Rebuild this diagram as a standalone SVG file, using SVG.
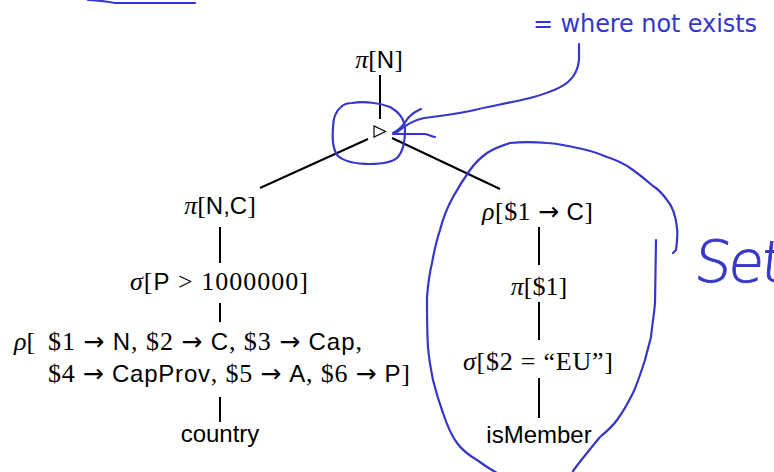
<svg xmlns="http://www.w3.org/2000/svg" width="774" height="472" viewBox="0 0 774 472">
<style>
.m{font-family:"Liberation Serif","DejaVu Serif",serif;font-size:26px;fill:#000}
.s{font-family:"Liberation Sans","DejaVu Sans",sans-serif;font-style:normal;font-size:24px}
.a{font-family:"DejaVu Sans",sans-serif;font-size:25px}
.i{font-style:italic}
.e{stroke:#000;stroke-width:2;fill:none}
.ink{fill:none;stroke:#3636c9;stroke-width:2.2;stroke-linecap:round;stroke-linejoin:round}
.note{font-family:"DejaVu Sans","Liberation Sans",sans-serif;font-size:24px;fill:#3636c9}
</style>
<g id="connectors">
<line class="e" x1="380" y1="75" x2="380" y2="119"/>
<line class="e" x1="368" y1="139" x2="260" y2="188"/>
<line class="e" x1="392" y1="138" x2="500" y2="189"/>
<line class="e" x1="220" y1="227" x2="220" y2="263"/>
<line class="e" x1="220" y1="303" x2="220" y2="322"/>
<line class="e" x1="220" y1="397" x2="220" y2="422"/>
<line class="e" x1="539" y1="227" x2="539" y2="265"/>
<line class="e" x1="539" y1="302" x2="539" y2="340"/>
<line class="e" x1="539" y1="378" x2="539" y2="418"/>
</g>
<g id="n-projN"><text class="m" x="379" y="68" text-anchor="middle"><tspan class="i">π</tspan>[<tspan class="s">N</tspan>]</text></g>
<g id="n-antijoin"><polygon points="374,126 374,137 385.5,131.5" fill="none" stroke="#000" stroke-width="1.2"/></g>
<g id="n-projNC"><text class="m" x="220" y="214" text-anchor="middle"><tspan class="i">π</tspan>[<tspan class="s">N,C</tspan>]</text></g>
<g id="n-select"><text class="m" x="219" y="290" text-anchor="middle" textLength="178"><tspan class="i">σ</tspan>[<tspan class="s">P</tspan> &gt; 1000000]</text></g>
<g id="n-rename">
<text class="m" x="14" y="350"><tspan class="i">ρ</tspan>[</text>
<text class="m" x="48" y="350" textLength="314">$1 <tspan class="a">→</tspan> <tspan class="s">N</tspan>, $2 <tspan class="a">→</tspan> <tspan class="s">C</tspan>, $3 <tspan class="a">→</tspan> <tspan class="s">Cap</tspan>,</text>
<text class="m" x="48" y="382" textLength="362">$4 <tspan class="a">→</tspan> <tspan class="s">CapProv</tspan>, $5 <tspan class="a">→</tspan> <tspan class="s">A</tspan>, $6 <tspan class="a">→</tspan> <tspan class="s">P</tspan>]</text>
</g>
<g id="n-country"><text class="m s" x="220" y="442" text-anchor="middle">country</text></g>
<g id="n-renameC"><text class="m" x="537.5" y="220" text-anchor="middle" textLength="111"><tspan class="i">ρ</tspan>[$1 <tspan class="a">→</tspan> <tspan class="s">C</tspan>]</text></g>
<g id="n-proj1"><text class="m" x="539" y="295" text-anchor="middle"><tspan class="i">π</tspan>[$1]</text></g>
<g id="n-selectEU"><text class="m" x="538" y="370" text-anchor="middle" textLength="150"><tspan class="i">σ</tspan>[$2 = “EU”]</text></g>
<g id="n-isMember"><text class="m s" x="539" y="443" text-anchor="middle">isMember</text></g>
<g id="annotations">
<text class="note" x="533" y="32" textLength="224">= where not exists</text>
<path class="ink" d="M88,0 Q105,1 115,3 L195,3"/>
<path class="ink" d="M579,44 L579,60 C578,70 574,77 568,82 C560,89 545,94 530,98 C510,103 490,106 470,111 C455,114 440,116 424,118 C414,120 404,126 396,133"/>
<path class="ink" d="M421,109 C414,112 409,116 406,121 C402,127 397,131 393,133"/>
<path class="ink" d="M393,134 L425,134 C430,135 433,137 435,137"/>
<path class="ink" d="M352,103 C365,101 380,103 390,107 C399,112 405,120 405,130 C405,140 404,150 398,157 C392,163 382,164 370,164 C358,164 345,162 338,156 C333,150 332,140 333,128 C333,118 336,111 341,107 C344,104 348,103 352,103 Z"/>
<path class="ink" d="M673,253 L676,250 C677,243 678,236 677,228 C676,218 673,207 667,200 C662,193 658,189 653,186 C645,179 640,175 633,170 C625,164 617,160 607,157 C595,152 585,149 573,147 C563,145 555,143 547,143 C535,142 520,142 510,143 C500,146 493,149 487,153 C480,158 475,163 470,170 C463,180 458,188 453,197 C447,208 443,218 440,230 C436,242 434,252 432,263 C429,275 428,285 427,297 C427,315 427,332 428,347 C429,360 431,370 433,380 C436,392 439,402 443,413 C447,425 451,435 457,443 C463,451 470,456 477,460 C485,466 490,469 497,473"/>
<path class="ink" d="M656,240 L655,303 C654,315 652,326 651,337 C649,345 647,352 645,360 C641,372 638,382 633,393 C628,403 623,412 617,420 C612,427 606,432 600,437 C595,443 591,448 587,453 C582,459 578,464 573,471"/>
<text x="693" y="282" style="font-family:'DejaVu Sans',sans-serif;font-size:58px;font-weight:200;fill:#3636c9;stroke:#3636c9;stroke-width:0.8;letter-spacing:-3px" transform="skewX(-6)" transform-origin="693 282">Set</text>
</g>
</svg>
